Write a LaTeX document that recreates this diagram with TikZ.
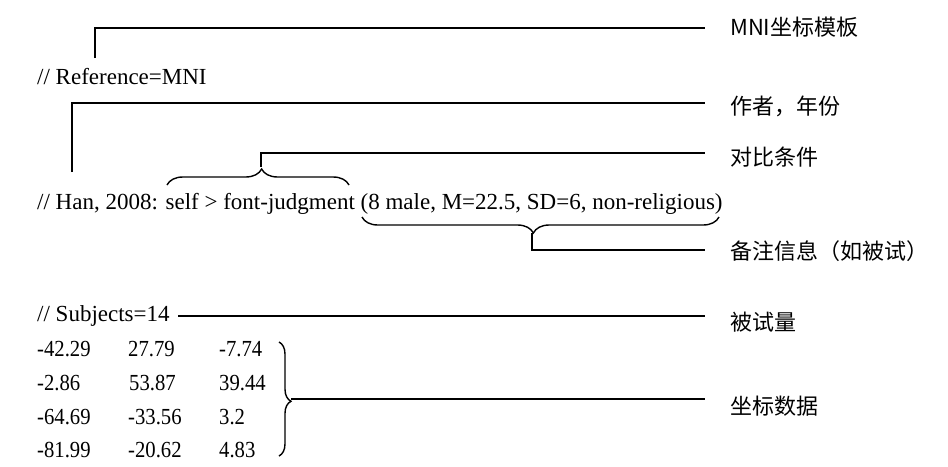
\documentclass[tikz,border=0pt]{standalone}
\usepackage{fontspec}
\setmainfont{Liberation Serif}
\newfontfamily\cjk{Noto Sans CJK SC}
\newfontfamily\numfont[FakeStretch=0.9]{Liberation Serif}
\usetikzlibrary{decorations.pathreplacing}
\begin{document}
\begin{tikzpicture}[x=1pt,y=-1pt,
  txt/.style={anchor=base west,inner sep=0pt,font=\fontsize{23}{27}\selectfont},
  num/.style={anchor=base west,inner sep=0pt,font=\numfont\fontsize{23}{27}\selectfont},
  lbl/.style={anchor=west,inner sep=0pt,font=\cjk\fontsize{22}{26}\selectfont},
  ln/.style={line width=1.4pt},
  br/.style={line width=1.4pt,decorate,decoration={brace,amplitude=#1,aspect=0.52}}]
\useasboundingbox (0,0) rectangle (948,466);
% texts
\node[txt] (ref) at (37,84) {// Reference=MNI};
\node[txt] (han) at (37,209) {// Han, 2008: self > font-judgment (8 male, M=22.5, SD=6, non-religious)};
\node[txt] (sub) at (37,321) {// Subjects=14};
\node[num] (a1) at (37,356) {-42.29}; \node[num] (b1) at (128,356) {27.79}; \node[num] (c1) at (219,356) {-7.74};
\node[num] (a2) at (37,390) {-2.86};  \node[num] (b2) at (129,390) {53.87}; \node[num] (c2) at (219,390) {39.44};
\node[num] (a3) at (37,424) {-64.69}; \node[num] (b3) at (128,424) {-33.56}; \node[num] (c3) at (219,424) {3.2};
\node[num] (a4) at (37,457) {-81.99}; \node[num] (b4) at (128,457) {-20.62}; \node[num] (c4) at (219,457) {4.83};
% labels
\node[lbl] (l1) at (730,27) {MNI坐标模板};
\node[lbl] (l2) at (730,106) {作者，年份};
\node[lbl] (l3) at (730,157) {对比条件};
\node[lbl] (l4) at (730,251) {备注信息（如被试）};
\node[lbl] (l5) at (730,322) {被试量};
\node[lbl] (l6) at (730,406) {坐标数据};
% connectors
\coordinate (p1) at (95,58);
\draw[ln] (p1) -- (95,28) -- (705,28);
\coordinate (p2) at (72,172);
\draw[ln] (p2) -- (72,103) -- (705,103);
\draw[br=16pt] (167,185) -- (349,185);
\draw[ln] (261,167) -- (261,153) -- (705,153);
\draw[br=16pt] (719,217) -- (362,217);
\draw[ln] (532,233) -- (532,250) -- (705,250);
\draw[ln] (178,316) -- (705,316);
\draw[br=12pt] (279,342) -- (279,456);
\draw[ln] (291,399) -- (705,399);
\end{tikzpicture}
\end{document}
